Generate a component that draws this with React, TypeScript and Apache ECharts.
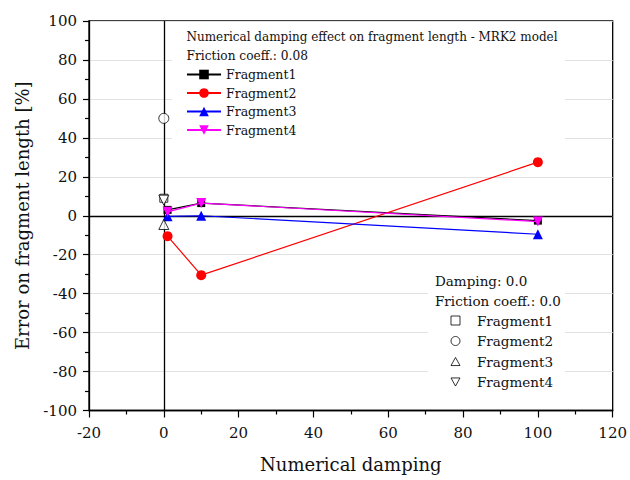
import React, { useEffect, useRef } from "react";
import * as echarts from "echarts";

const damping = [1, 10, 100];
const fragment1 = [3, 6.5, -2.5];
const fragment2 = [-10.5, -30.5, 27.5];
const fragment3 = [-0.3, 0, -9.5];
const fragment4 = [2, 6.5, -3];

const refDamping = 0;
const ref1 = 9;
const ref2 = 50;
const ref3 = -4.5;
const ref4 = 8;

const names = ["Fragment1", "Fragment2", "Fragment3", "Fragment4"];
const lineColors = ["#000000", "#ff0000", "#0000ff", "#ff00ff"];
const lineSymbols = ["rect", "circle", "triangle", "triangle"];
const lineRotates = [0, 0, 0, 180];
const lineSizes = [8, 10, 10, 10];
const lineData = [fragment1, fragment2, fragment3, fragment4];
const refValues = [ref1, ref2, ref3, ref4];
const refSuffix = " (no damping)";
const refIcons = [
  "path://M0,0 L10,0 L10,10 L0,10 Z",
  "circle",
  "path://M5,0 L10,9 L0,9 Z",
  "path://M0,0 L10,0 L5,9 Z",
];

const FONT = "DejaVu Serif";

export default function App() {
  const ref = useRef<HTMLDivElement>(null);
  useEffect(() => {
    if (!ref.current) return;
    const chart = echarts.init(ref.current, undefined, { renderer: "svg" });

    const lineSeries = names.map((n, i) => ({
      name: n,
      type: "line",
      data: damping.map((d, j) => [d, lineData[i][j]]),
      symbol: lineSymbols[i],
      symbolRotate: lineRotates[i],
      symbolSize: lineSizes[i],
      lineStyle: { color: lineColors[i], width: 1.2 },
      itemStyle: { color: lineColors[i] },
      z: 3 + i,
      ...(i === 0
        ? {
            markLine: {
              silent: true,
              symbol: "none",
              label: { show: false },
              lineStyle: { color: "#000", width: 1.3, type: "solid" },
              data: [{ xAxis: 0 }, { yAxis: 0 }],
              z: 1,
            },
          }
        : {}),
    }));

    const refSeries = names.map((n, i) => ({
      name: n + refSuffix,
      type: "scatter",
      data: [[refDamping, refValues[i]]],
      symbol: lineSymbols[i],
      symbolRotate: lineRotates[i],
      symbolSize: lineSizes[i],
      itemStyle: { color: "#ffffff", borderColor: "#000", borderWidth: 1 },
      z: 8,
    }));

    chart.setOption({
      animation: false,
      backgroundColor: "#ffffff",
      textStyle: { fontFamily: FONT },
      grid: {
        left: 89,
        right: 14,
        top: 21,
        bottom: 69.5,
        show: true,
        borderColor: "#000",
        borderWidth: 1.3,
        backgroundColor: "transparent",
      },
      xAxis: {
        type: "value",
        min: -20,
        max: 120,
        interval: 20,
        name: "Numerical damping",
        nameLocation: "middle",
        nameGap: 45,
        nameTextStyle: { fontSize: 18, color: "#111", fontFamily: FONT },
        axisLine: { onZero: false, lineStyle: { color: "#000", width: 1.3 } },
        axisTick: { show: true, length: 7, lineStyle: { color: "#000", width: 1.2 } },
        minorTick: { show: true, splitNumber: 2, length: 4, lineStyle: { color: "#000", width: 1.2 } },
        axisLabel: { fontSize: 15, color: "#111", margin: 15, fontFamily: FONT },
        splitLine: { show: false },
      },
      yAxis: {
        type: "value",
        min: -100,
        max: 100,
        interval: 20,
        name: "Error on fragment length [%]",
        nameLocation: "middle",
        nameGap: 58,
        nameTextStyle: { fontSize: 18, color: "#111", fontFamily: FONT },
        axisLine: { onZero: false, lineStyle: { color: "#000", width: 1.3 } },
        axisTick: { show: true, length: 6, lineStyle: { color: "#000", width: 1.2 } },
        minorTick: { show: true, splitNumber: 2, length: 4, lineStyle: { color: "#000", width: 1.2 } },
        axisLabel: { fontSize: 15, color: "#111", margin: 12, fontFamily: FONT },
        splitLine: { show: true, lineStyle: { color: "#e2e2e2", width: 1 } },
      },
      graphic: [
        {
          type: "rect",
          shape: { x: 172, y: 25, width: 393, height: 123 },
          style: { fill: "#ffffff" },
          z: 1,
          silent: true,
        },
        {
          type: "rect",
          shape: { x: 428, y: 268, width: 137, height: 127 },
          style: { fill: "#ffffff" },
          z: 1,
          silent: true,
        },
        {
          type: "text",
          x: 186.5,
          y: 37,
          style: {
            text: "Numerical damping effect on fragment length - MRK2 model",
            fontFamily: FONT,
            fontSize: 12,
            fill: "#111",
            verticalAlign: "middle",
          },
          z: 10,
        },
        {
          type: "text",
          x: 186.5,
          y: 55.5,
          style: {
            text: "Friction coeff.: 0.08",
            fontFamily: FONT,
            fontSize: 12.2,
            fill: "#111",
            verticalAlign: "middle",
          },
          z: 10,
        },
        {
          type: "text",
          x: 435,
          y: 281,
          style: {
            text: "Damping: 0.0",
            fontFamily: FONT,
            fontSize: 13.5,
            fill: "#111",
            verticalAlign: "middle",
          },
          z: 10,
        },
        {
          type: "text",
          x: 435,
          y: 301,
          style: {
            text: "Friction coeff.: 0.0",
            fontFamily: FONT,
            fontSize: 13.5,
            fill: "#111",
            verticalAlign: "middle",
          },
          z: 10,
        },
      ],
      legend: [
        {
          data: names,
          orient: "vertical",
          left: 186,
          top: 67.5,
          padding: 0,
          itemWidth: 34,
          itemHeight: 12,
          itemGap: 4.5,
          textStyle: { fontSize: 12.5, color: "#111", fontFamily: FONT, lineHeight: 14 },
          selectedMode: false,
        },
        {
          data: names.map((n, i) => ({ name: n + refSuffix, icon: refIcons[i] })),
          orient: "vertical",
          left: 450.5,
          top: 313,
          padding: 0,
          itemWidth: 9,
          itemHeight: 9,
          itemGap: 5.5,
          itemStyle: { color: "#ffffff", borderColor: "#000", borderWidth: 1 },
          formatter: (name: string) => name.replace(refSuffix, ""),
          textStyle: { fontSize: 13.5, color: "#111", fontFamily: FONT, lineHeight: 15, padding: [0, 0, 0, 12] },
          selectedMode: false,
        },
      ],
      series: [...lineSeries, ...refSeries],
    });

    return () => chart.dispose();
  }, []);

  return <div ref={ref} style={{ position: "fixed", left: 0, top: 0, width: 630, height: 480 }} />;
}
